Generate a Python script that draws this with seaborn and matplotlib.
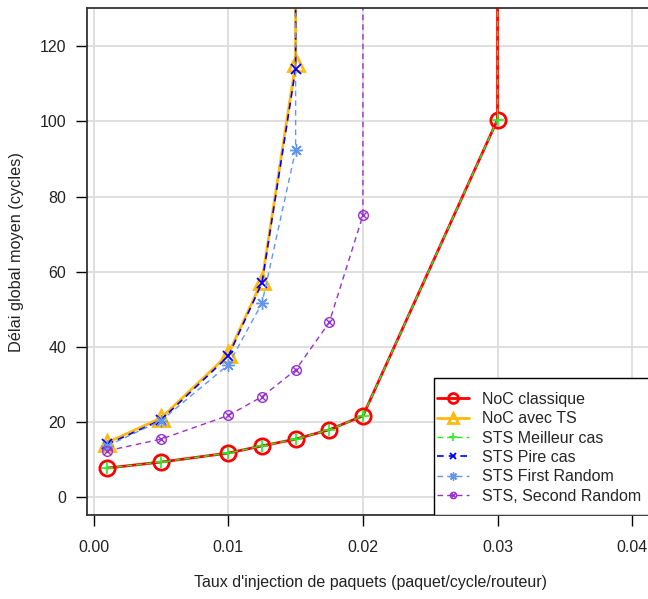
import numpy as np
import matplotlib
matplotlib.use("Agg")
import matplotlib.pyplot as plt
from matplotlib.path import Path
from matplotlib.patches import Rectangle
import seaborn as sns

# taux d'injection (paquet/cycle/routeur); last point of each series is the saturation (off the chart)
x_classique = [0.001, 0.005, 0.01, 0.0125, 0.015, 0.0175, 0.02, 0.03, 0.03]
y_classique = [7.7, 9.3, 11.7, 13.6, 15.4, 17.9, 21.6, 100.5, 1000]

x_ts = [0.001, 0.005, 0.01, 0.0125, 0.015, 0.015]
y_ts = [14.5, 21.0, 38.0, 57.5, 115.5, 1000]

x_meilleur = x_classique
y_meilleur = [7.7, 9.3, 11.7, 13.6, 15.4, 17.9, 21.6, 100.5, 1000]

x_pire = [0.001, 0.005, 0.01, 0.0125, 0.015, 0.015]
y_pire = [14.0, 20.5, 37.5, 57.0, 114.0, 1000]

x_first = [0.001, 0.005, 0.01, 0.0125, 0.015, 0.015]
y_first = [13.6, 20.3, 35.2, 51.6, 92.4, 1000]

x_second = [0.001, 0.005, 0.01, 0.0125, 0.015, 0.0175, 0.02, 0.02]
y_second = [12.3, 15.4, 21.7, 26.7, 33.8, 46.5, 75.0, 1000]

xticks = [0.0, 0.01, 0.02, 0.03, 0.04]
xticklabels = ["0.00", "0.01", "0.02", "0.03", "0.04"]
yticks = [0, 20, 40, 60, 80, 100, 120]

sns.set_style("ticks")
plt.rcParams["font.family"] = ["Liberation Sans", "DejaVu Sans"]
plt.rcParams["font.size"] = 11.5

# circle with a cross inside (like R pch 13)
circ = Path.unit_circle()
d = 0.707
cross_circle = Path(
    list(circ.vertices) + [(-d, -d), (d, d), (-d, d), (d, -d)],
    list(circ.codes) + [Path.MOVETO, Path.LINETO, Path.MOVETO, Path.LINETO],
)

fig = plt.figure(figsize=(6.48, 5.99), dpi=100)
ax = fig.add_axes([87 / 648, 84 / 599, 585.5 / 648, 507 / 599])

for xv in xticks:
    ax.axvline(xv, color="#dcdcdc", lw=1.3, zorder=0)
for yv in yticks:
    ax.axhline(yv, color="#dcdcdc", lw=1.3, zorder=0)

common = dict(estimator=None, sort=False, ax=ax)

sns.lineplot(x=x_classique, y=y_classique, color="#ff0000", lw=2, marker="o",
             markersize=11, markerfacecolor="none", markeredgecolor="#ff0000",
             markeredgewidth=2, label="NoC classique", **common)
sns.lineplot(x=x_ts, y=y_ts, color="#ffb90f", lw=2, marker="^",
             markersize=12, markerfacecolor="none", markeredgecolor="#ffb90f",
             markeredgewidth=2, label="NoC avec TS", **common)
sns.lineplot(x=x_meilleur, y=y_meilleur, color="#22ee22", lw=1, linestyle=(0, (4, 3)),
             marker="+", markersize=9, markeredgewidth=1.2, markeredgecolor="#22ee22",
             label="STS Meilleur cas", **common)
sns.lineplot(x=x_pire, y=y_pire, color="#0000ff", lw=1.2, linestyle=(0, (4, 3)),
             marker="x", markersize=6.5, markeredgewidth=1.3, markeredgecolor="#0000ff",
             label="STS Pire cas", **common)
sns.lineplot(x=x_first, y=y_first, color="#6495ed", lw=1, linestyle=(0, (4, 3)),
             marker=(8, 2, 0), markersize=9, markeredgewidth=1, markeredgecolor="#6495ed",
             label="STS First Random", **common)
sns.lineplot(x=x_second, y=y_second, color="#9932cc", lw=1, linestyle=(0, (4, 3)),
             marker=cross_circle, markersize=7, markerfacecolor="none",
             markeredgewidth=1, markeredgecolor="#9932cc",
             label="STS, Second Random", **common)

ax.set_xlim(-0.0005, 0.043)
ax.set_ylim(-4.8, 130.2)
ax.set_xticks(xticks)
ax.set_xticklabels(xticklabels)
ax.set_yticks(yticks)
ax.tick_params(axis="both", direction="out", length=8, width=1, color="black",
               labelsize=11.5, labelcolor="#222222")
ax.tick_params(axis="y", pad=7)
ax.tick_params(axis="x", pad=10)
ax.set_xlabel("")
ax.set_ylabel("")
for s in ["left", "bottom", "top", "right"]:
    ax.spines[s].set_color("#333333")
    ax.spines[s].set_linewidth(1.3)

fig.text(17 / 648, 1 - 252 / 599, "Délai global moyen (cycles)", rotation=90,
         ha="center", va="center", fontsize=11.7, color="#222222")
fig.text(371 / 648, 1 - 582 / 599, "Taux d'injection de paquets (paquet/cycle/routeur)",
         ha="center", va="center", fontsize=11.5, color="#222222")

# legend box drawn by hand so the padding can differ left / top
box = Rectangle((434 / 648, 84 / 599), 0.5, (515 - 378) / 599, transform=fig.transFigure,
                facecolor="white", edgecolor="black", lw=1, zorder=4.5)
ax.add_artist(box)
leg = ax.legend(loc="upper left", bbox_to_anchor=(437 / 648, 1 - 392 / 599),
                bbox_transform=fig.transFigure, frameon=False, borderaxespad=0,
                borderpad=0, handlelength=2.0, handletextpad=0.8, labelspacing=0.27,
                fontsize=11.5, markerscale=0.65)
leg.set_zorder(5)

fig.savefig("out.png", dpi=100)
